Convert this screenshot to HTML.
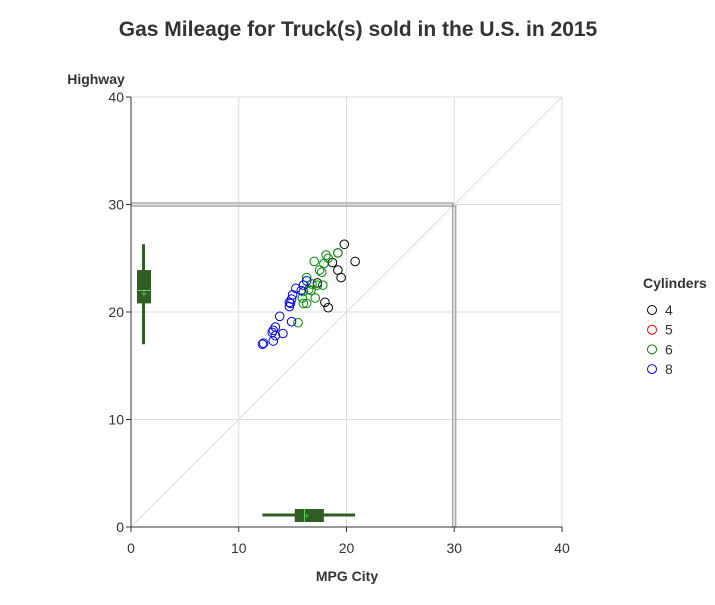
<!DOCTYPE html>
<html><head><meta charset="utf-8"><style>
body{margin:0;background:#fff;font-family:"Liberation Sans",sans-serif}
svg text{font-family:"Liberation Sans",sans-serif}
</style></head><body>
<svg id="c" width="715" height="600">
<text x="358" y="36" text-anchor="middle" font-size="21" font-weight="bold" fill="#333">Gas Mileage for Truck(s) sold in the U.S. in 2015</text>
</svg>
<script>
const xTicks=[0,10,20,30,40];
const yTicks=[0,10,20,30,40];
const cylLabels=["4","5","6","8"];
const cylColors=["#000","#e00","#080","#00e"];
const x4=[19.8,20.8,19.2,18.7,19.2,19.5,17.3,18.0,18.3];
const y4=[26.3,24.7,25.5,24.6,23.9,23.2,22.7,20.9,20.4];
const x6=[18.1,18.3,17.0,17.9,17.5,17.7,16.3,16.8,17.8,17.3,16.5,16.7,16.0,15.9,17.1,16.0,16.3,15.5,19.2];
const y6=[25.3,25.0,24.7,24.5,23.9,23.7,23.2,22.6,22.5,22.5,22.1,22.0,21.9,21.3,21.3,20.8,20.8,19.0,25.5];
const x8=[16.3,16.0,15.3,15.8,15.0,14.9,14.7,14.8,14.7,13.8,14.9,13.4,13.2,13.1,14.1,13.2,12.3,12.2,13.4];
const y8=[22.9,22.5,22.2,22.0,21.6,21.2,20.9,20.8,20.5,19.6,19.1,18.6,18.3,18.1,18.0,17.3,17.1,17.0,17.8];
const cityBox=[12.2,15.2,16.1,17.9,20.8]; const cityMean=16.3;
const hwyBox=[17.0,20.8,22.0,23.9,26.3]; const hwyMean=21.7;
const X=v=>131+v*10.775, Y=v=>527-v*10.75;
const svg=document.getElementById('c'), NS='http://www.w3.org/2000/svg';
function mk(t,a,p){const e=document.createElementNS(NS,t);for(const k in a)e.setAttribute(k,a[k]);(p||svg).appendChild(e);return e;}
yTicks.forEach(v=>{const l=mk('line',{x1:131,x2:562,y1:Y(v),y2:Y(v),stroke:'#ddd'});


const t=mk('text',{x:124,y:Y(v)+5,'text-anchor':'end','font-size':14,fill:'#333'});t.textContent=v;

});
xTicks.forEach(v=>{const l=mk('line',{x1:X(v),x2:X(v),y1:97,y2:527,stroke:'#ddd'});


const t=mk('text',{x:X(v),y:553,'text-anchor':'middle','font-size':14,fill:'#333'});t.textContent=v;


mk('line',{x1:X(v),x2:X(v),y1:527,y2:532,stroke:'#333'});});
yTicks.forEach(v=>mk('line',{x1:126,x2:131,y1:Y(v),y2:Y(v),stroke:'#333'}));
const d=mk('line',{x1:X(0),y1:Y(0),x2:X(40),y2:Y(40),stroke:'#ddd'});


[-1.5,1.5].forEach(o=>{mk('polyline',{points:`${X(0)},${Y(30)+o} ${X(30)+o},${Y(30)+o} ${X(30)+o},${Y(0)}`,fill:'none',stroke:'#999','stroke-width':1.2});});
const ax=mk('path',{d:'M131 97V527H562',fill:'none',stroke:'#333'});


const g='#2e5e22';
mk('line',{x1:X(cityBox[0]),x2:X(cityBox[4]),y1:515,y2:515,stroke:g,'stroke-width':3});
const cb=mk('rect',{x:X(cityBox[1]),y:509,width:X(cityBox[3])-X(cityBox[1]),height:13,fill:g});


mk('line',{x1:X(cityBox[2]),x2:X(cityBox[2]),y1:509,y2:522,stroke:'#6c6'});
mk('line',{x1:143.5,x2:143.5,y1:Y(hwyBox[0]),y2:Y(hwyBox[4]),stroke:g,'stroke-width':3});
const hb=mk('rect',{x:137,y:Y(hwyBox[3]),width:14,height:Y(hwyBox[1])-Y(hwyBox[3]),fill:g});


mk('line',{x1:137,x2:151,y1:Y(hwyBox[2]),y2:Y(hwyBox[2]),stroke:'#6c6'});
mk('text',{x:144,y:Y(hwyMean)+4,'text-anchor':'middle','font-size':11,fill:'#6c6'}).textContent='+';
mk('text',{x:X(cityMean),y:519,'text-anchor':'middle','font-size':9,fill:'#6c6'}).textContent='+';
[[x4,y4,0],[x6,y6,2],[x8,y8,3]].forEach(([xs,ys,c])=>xs.forEach((v,i)=>{
const p=mk('circle',{cx:X(v),cy:Y(ys[i]),r:4.3,fill:'none',stroke:cylColors[c]});

}));
let t=mk('text',{x:96,y:84,'text-anchor':'middle','font-size':14,'font-weight':'bold',fill:'#333'});t.textContent='Highway';


t=mk('text',{x:347,y:581,'text-anchor':'middle','font-size':14,'font-weight':'bold',fill:'#333'});t.textContent='MPG City';


t=mk('text',{x:643,y:288,'font-size':14,'font-weight':'bold',fill:'#333'});t.textContent='Cylinders';


cylLabels.forEach((l,i)=>{const y=310+i*19.7;
const c=mk('circle',{cx:652,cy:y,r:4.5,fill:'none',stroke:cylColors[i]});


const tt=mk('text',{x:665,y:y+5,'font-size':14,fill:'#333'});tt.textContent=l;

});
</script>
</body></html>
